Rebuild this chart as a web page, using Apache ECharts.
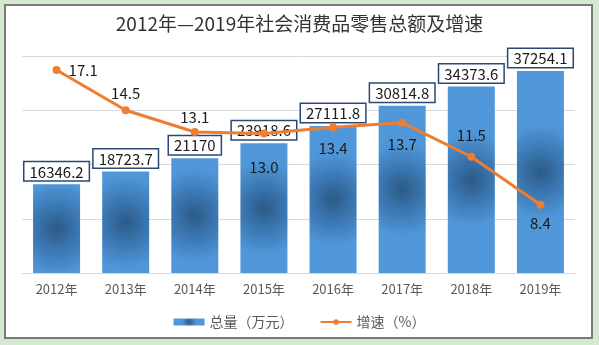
<!DOCTYPE html>
<html>
<head>
<meta charset="utf-8">
<script src="https://cdn.jsdelivr.net/npm/echarts@6/dist/echarts.min.js"></script>
<style>
html,body{margin:0;padding:0;background:#d4e9d0;}
#chart{width:599px;height:345px;}
</style>
</head>
<body>
<div id="chart"></div>
<script>
var titleText = '2012年—2019年社会消费品零售总额及增速';
var categories = ['2012年','2013年','2014年','2015年','2016年','2017年','2018年','2019年'];
var totalValues = [16346.2, 18723.7, 21170, 23918.6, 27111.8, 30814.8, 34373.6, 37254.1];
var growthValues = [17.1, 14.5, 13.1, 13.0, 13.4, 13.7, 11.5, 8.4];
var totalName = '总量（万元）';
var growthName = '增速（%）';
var growthLabelFormat = ['17.1','14.5','13.1','13.0','13.4','13.7','11.5','8.4'];

var FONT = "'Noto Sans CJK SC', 'Noto Sans', sans-serif";
var linePlacement = [
  {position:'right', distance:8},
  {position:'top', distance:5},
  {position:'top', distance:3},
  {position:'bottom', distance:22},
  {position:'bottom', distance:9},
  {position:'bottom', distance:10},
  {position:'top', distance:10},
  {position:'bottom', distance:7}
];

var chart = echarts.init(document.getElementById('chart'));
var barFill = {
  type:'radial', x:0.5, y:0.5, r:1.0,
  colorStops:[
    {offset:0, color:'#2b5a87'},
    {offset:0.45, color:'#3a76b0'},
    {offset:1, color:'#5097da'}
  ]
};
chart.setOption({
  backgroundColor:'#d4e9d0',
  animation:false,
  textStyle:{fontFamily:FONT},
  graphic:[{
    type:'rect', z:-10, silent:true,
    shape:{x:5, y:5, width:587, height:333},
    style:{fill:'#ffffff', stroke:'#7a7a7a', lineWidth:2}
  }],
  title:{
    text:titleText, left:'center', top:14, padding:0,
    textStyle:{fontSize:19, fontWeight:'normal', color:'#333333', fontFamily:FONT}
  },
  legend:{
    left:'center', top:310, itemWidth:31, itemHeight:7, itemGap:26,
    textStyle:{fontSize:14, color:'#595959', fontFamily:FONT},
    data:[{name:totalName, icon:'rect'}, {name:growthName}]
  },
  grid:{left:22, right:24, top:56, bottom:72, containLabel:false},
  xAxis:{
    type:'category', data:categories,
    axisLine:{lineStyle:{color:'#d9d9d9', width:1}},
    axisTick:{show:false},
    axisLabel:{color:'#595959', fontSize:13, margin:10, fontFamily:FONT}
  },
  yAxis:[{
    type:'value', min:0, max:40000, interval:10000,
    axisLabel:{show:false}, axisLine:{show:false}, axisTick:{show:false},
    splitLine:{lineStyle:{color:'#d9d9d9', width:1}}
  },{
    type:'value', min:4, max:18, show:false,
    splitLine:{show:false}
  }],
  series:[{
    name:totalName, type:'bar', yAxisIndex:0, barWidth:'68%',
    data:totalValues,
    itemStyle:{color:barFill},
    label:{
      show:true, position:'top', distance:4,
      fontSize:15, color:'#1a1a1a', fontFamily:FONT,
      backgroundColor:'#ffffff', borderColor:'#2a4872', borderWidth:1.5,
      padding:[2,5,1,5]
    }
  },{
    name:growthName, type:'line', yAxisIndex:1,
    data:growthValues.map(function(v,i){
      return {value:v, label:{position:linePlacement[i].position, distance:linePlacement[i].distance}};
    }),
    lineStyle:{color:'#ed7d31', width:3},
    itemStyle:{color:'#ed7d31'},
    symbol:'circle', symbolSize:8,
    z:5,
    label:{
      show:true, fontSize:15, color:'#1a1a1a', fontFamily:FONT,
      formatter:function(p){return growthLabelFormat[p.dataIndex];}
    }
  }]
});
</script>
</body>
</html>
